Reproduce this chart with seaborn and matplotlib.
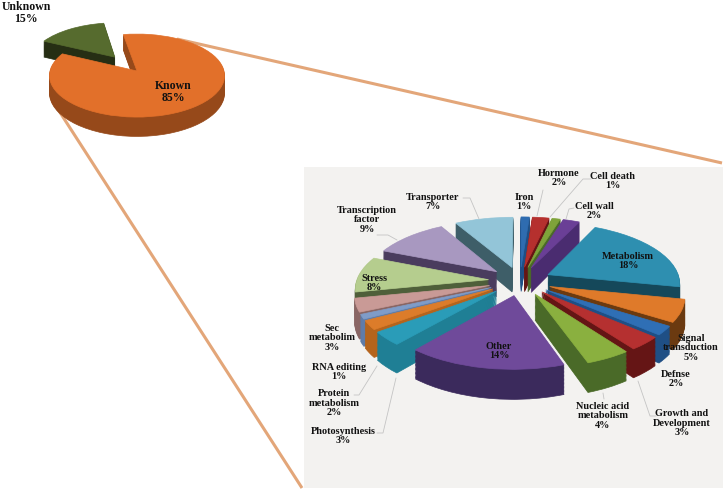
import numpy as np
import seaborn as sns
import matplotlib.pyplot as plt
from matplotlib.patches import Rectangle
from matplotlib.transforms import Transform

W, H = 728, 492

overview_names = ["Known", "Unknown"]
overview_values = [85, 15]

function_names = [
    "Iron", "Hormone", "Cell death", "Cell wall", "Metabolism",
    "Signal\ntransduction", "Defnse", "Growth and\nDevelopment",
    "Nucleic acid\nmetabolism", "Other", "Photosynthesis", "Protein\nmetabolism",
    "RNA editing", "Sec\nmetabolim", "Stress", "Transcription\nfactor", "Transporter",
]
function_values = [1, 2, 1, 2, 18, 5, 2, 3, 4, 14, 3, 2, 1, 3, 8, 9, 7]

overview_tops = ["#e2702a", "#566b2e"]
overview_walls = ["#96491a", "#262e14"]
function_tops = [
    "#2f6cb0", "#b5302e", "#7fa33a", "#6a3f96", "#2e8fb0", "#df7a2a", "#2f6fb5", "#b53030",
    "#8ab03f", "#6f4a9a", "#2a9cb8", "#dc7c2a", "#7f9cc8", "#c99a96", "#b5cd8e", "#a898c0", "#93c5d8",
]
function_walls = [
    "#1f4f85", "#651515", "#4a6a28", "#4a2c70", "#15485a", "#6b3a10", "#1f4f85", "#651515",
    "#4a6a28", "#3b2a5c", "#1f7f95", "#b5641c", "#5f7ca8", "#8a6664", "#4f5f3a", "#4a3c5e", "#3e5e68",
]

function_label_pos = [
    (524, 202), (559, 178), (613, 181), (594, 211), (628, 261), (691, 348), (676, 379), (682, 423),
    (603, 416), (499, 351), (343, 436), (334, 403), (339, 372), (332, 338), (374, 283), (367, 220), (433, 202),
]
leader_lines = [
    [(463, 198), (470, 198), (479, 219)],
    [(377, 235), (388, 235), (397, 240)],
    [(543, 190), (537, 216)],
    [(591, 179), (583, 179), (550, 217)],
    [(574, 208), (569, 209), (566, 219)],
    [(656, 416), (650, 416), (638, 381)],
    [(603, 393), (604, 399)],
    [(354, 395), (359, 395), (377, 366)],
    [(377, 433), (383, 433), (396, 378)],
]


class TiltView(Transform):
    # ground plane to screen, far side smaller than near side, drop lowers the layer
    input_dims = 2
    output_dims = 2

    def __init__(self, tilt, drop):
        super().__init__()
        self.tilt = tilt
        self.drop = drop

    def transform_non_affine(self, xy):
        xy = np.asarray(xy)
        w = 1 + self.tilt * xy[:, 1]
        return np.column_stack([xy[:, 0] / w, (xy[:, 1] - self.drop) / w])


def draw_pie(fig, values, tops, walls, cx, cy, rx, ry, tilt, depth, start, explode):
    box = [(cx - 2 * rx) / W, 1 - (cy + 2 * ry) / H, 4 * rx / W, 4 * ry / H]
    ax = fig.add_axes(box, zorder=1)
    layers = int(depth * ry / 1.2) + 1
    for i in range(layers, -1, -1):
        colors = tops if i == 0 else walls
        wedges, _ = ax.pie(values, explode=explode, colors=colors, startangle=start,
                           counterclock=False, radius=1)
        for w, c in zip(wedges, colors):
            mid = np.radians((w.theta1 + w.theta2) / 2)
            w.set_transform(TiltView(tilt, depth * i / layers) + ax.transData)
            w.set_edgecolor(c)
            w.set_linewidth(0.5)
            # back slices first, then the front ones over them
            w.set_zorder(10 * (1 - np.sin(mid)) + (layers - i) / (layers + 1))
    ax.set(aspect="auto", xlim=(-2, 2), ylim=(-2, 2))
    ax.axis("off")
    return ax


sns.set_theme(style="white")
plt.rcParams["font.family"] = ["Liberation Serif", "DejaVu Serif"]

fig = plt.figure(figsize=(W / 100, H / 100), dpi=100, facecolor="white")

base = fig.add_axes([0, 0, 1, 1], zorder=0)
base.set(xlim=(0, W), ylim=(H, 0))
base.axis("off")
base.add_patch(Rectangle((304, 167), 419, 321, facecolor="#f3f2f0", edgecolor="none"))
base.plot([177, 722], [39, 163], color="#e3a679", lw=2.2, solid_capstyle="butt")
base.plot([52, 302], [100, 488], color="#e3a679", lw=2.2, solid_capstyle="butt")

draw_pie(fig, overview_values, overview_tops, overview_walls, 137, 71, 87, 41, 0.11, 0.42, 100,
         [0, 0.44])
draw_pie(fig, function_values, function_tops, function_walls, 520, 281, 132, 60, 0.13, 0.42, 90,
         [0.24] * len(function_values))

top = fig.add_axes([0, 0, 1, 1], zorder=2)
top.set(xlim=(0, W), ylim=(H, 0))
top.axis("off")
for line in leader_lines:
    top.plot([p[0] for p in line], [p[1] for p in line], color="#c4c4c4", lw=0.6)

text_style = dict(ha="center", va="center", fontweight="bold", color="#111111", linespacing=1.05)
top.text(173, 92, f"{overview_names[0]}\n{overview_values[0]}%", fontsize=8.5, **text_style)
top.text(26, 13, f"{overview_names[1]}\n{overview_values[1]}%", fontsize=8.5, **text_style)
for name, value, (x, y) in zip(function_names, function_values, function_label_pos):
    top.text(x, y, f"{name}\n{value}%", fontsize=7.4, **text_style)

fig.savefig("out.png", dpi=100)
